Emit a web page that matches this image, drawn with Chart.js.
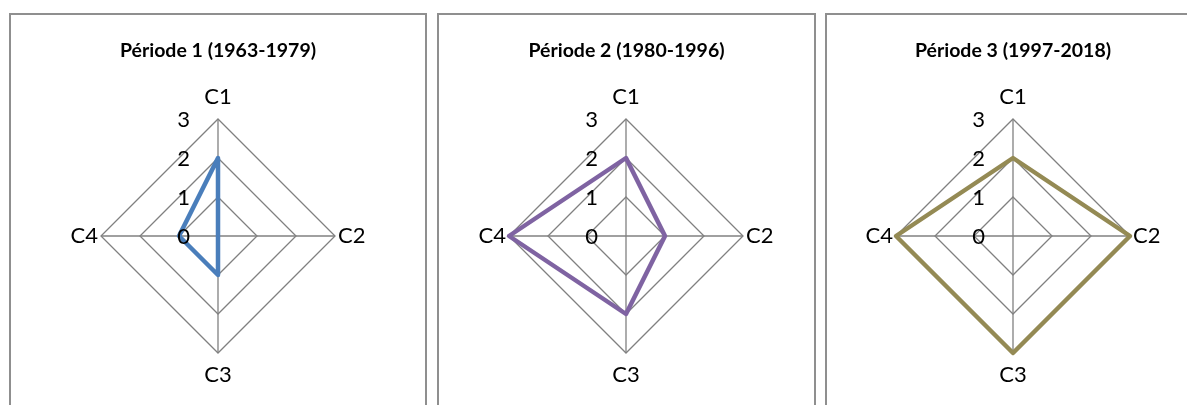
<!DOCTYPE html>
<html>
<head>
<meta charset="utf-8">
<script src="https://cdn.jsdelivr.net/npm/chart.js@4.4.1/dist/chart.umd.min.js"></script>
<style>
  html, body { margin: 0; padding: 0; background: #fff; overflow: hidden; }
  body { width: 1187px; height: 405px; position: relative; }
  .panel { position: absolute; top: 13px; height: 420px; border: 2px solid #8f8f8f; overflow: hidden; }
  .panel canvas { position: absolute; top: 0; left: 0; }
</style>
</head>
<body>
<div class="panel" style="left:9px;width:414px"><canvas id="c1" width="414" height="372"></canvas></div>
<div class="panel" style="left:437px;width:375px"><canvas id="c2" width="375" height="372"></canvas></div>
<div class="panel" style="left:825px;width:400px"><canvas id="c3" width="372" height="372"></canvas></div>

<script>
// Data
const categories = ["C1", "C2", "C3", "C4"];
const periodTitles = ["Période 1 (1963-1979)", "Période 2 (1980-1996)", "Période 3 (1997-2018)"];
const periode1 = [2, 0, 1, 1];
const periode2 = [2, 1, 2, 3];
const periode3 = [2, 3, 3, 3];
const tickValues = [0, 1, 2, 3];

const seriesList = [periode1, periode2, periode3];
const colors = ["#4a7ebb", "#7f63a2", "#948a54"];

// Tick labels sit to the left of the vertical axis, drawn on top of the line
const leftTicks = {
  id: "leftTicks",
  afterDatasetsDraw(chart) {
    const scale = chart.scales.r;
    const ctx = chart.ctx;
    ctx.save();
    ctx.font = "22px Lato";
    ctx.fillStyle = "#000";
    ctx.textAlign = "right";
    ctx.textBaseline = "middle";
    tickValues.forEach((v) => {
      const y = scale.yCenter - scale.getDistanceFromCenterForValue(v) + 1;
      ctx.fillText(String(v), scale.xCenter - 28, y);
    });
    ctx.restore();
  },
};

function makeChart(id, title, values, color) {
  const ctx = document.getElementById(id).getContext("2d");
  return new Chart(ctx, {
    type: "radar",
    data: {
      labels: categories,
      datasets: [
        {
          label: title,
          data: values,
          borderColor: color,
          borderWidth: 4.5,
          borderJoinStyle: "round",
          fill: false,
          pointRadius: 0,
          pointHoverRadius: 0,
          tension: 0,
        },
      ],
    },
    options: {
      responsive: false,
      animation: false,
      events: [],
      plugins: {
        legend: { display: false },
        tooltip: { enabled: false },
        title: {
          display: true,
          text: title,
          color: "#000",
          font: { family: "Lato", size: 19.5, weight: "bold", lineHeight: 1.2 },
          padding: { top: 24, bottom: 23.6 },
        },
      },
      scales: {
        r: {
          min: 0,
          max: 3,
          ticks: { stepSize: 1, display: false },
          grid: { color: "#808080", lineWidth: 1.3 },
          angleLines: { color: "#808080", lineWidth: 1.3 },
          pointLabels: {
            color: "#000",
            font: { family: "Lato", size: 22, lineHeight: 1 },
            padding: (c) => (c.index % 2 ? 3 : 11),
          },
        },
      },
    },
    plugins: [leftTicks],
  });
}

periodTitles.forEach((t, i) => makeChart("c" + (i + 1), t, seriesList[i], colors[i]));
</script>
</body>
</html>
